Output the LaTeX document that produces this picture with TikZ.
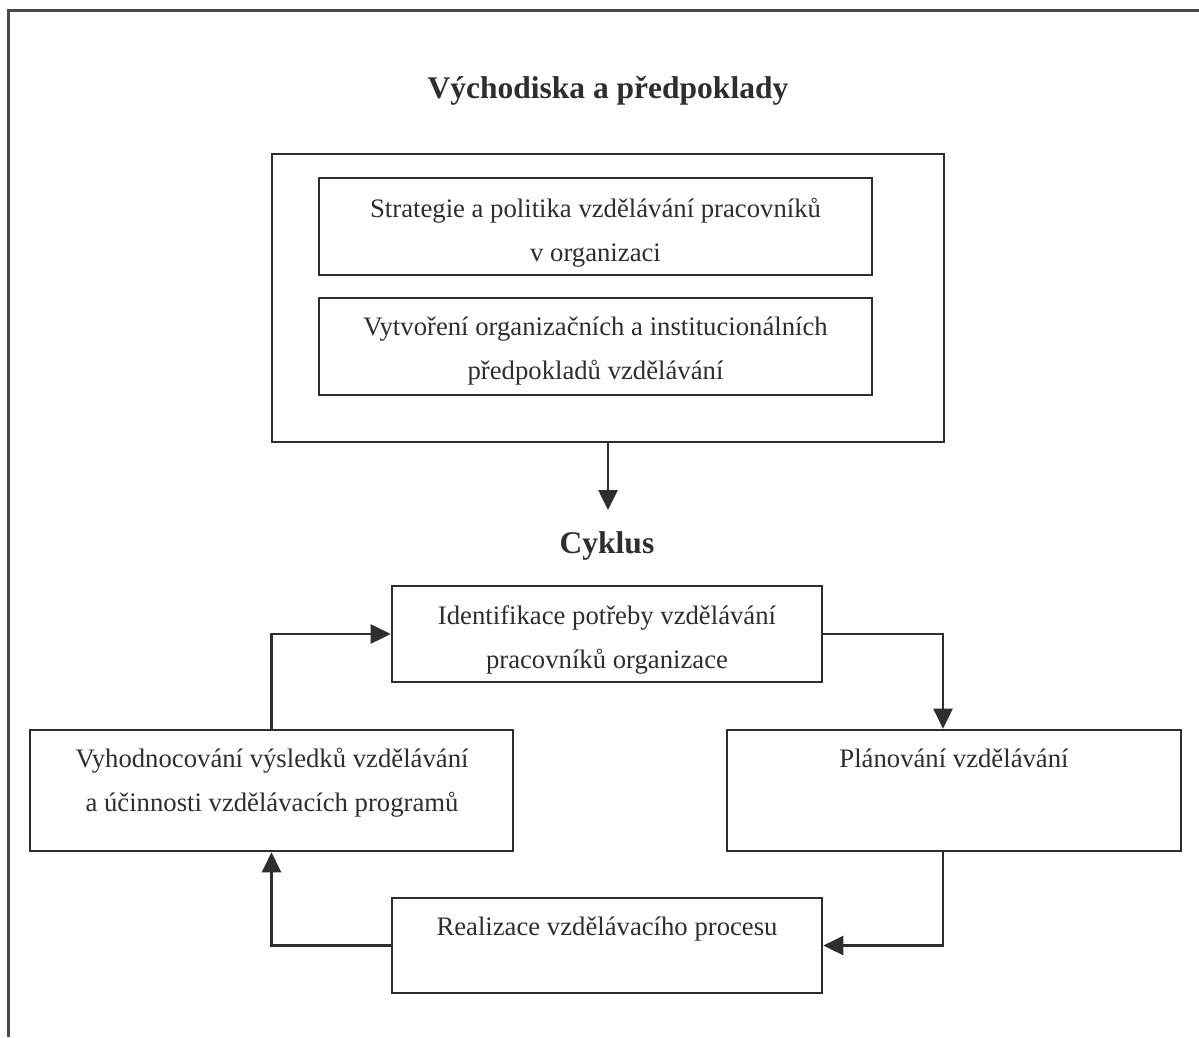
\documentclass[tikz,border=0pt]{standalone}
\usepackage{fontspec}
\setmainfont{Liberation Serif}
\usetikzlibrary{arrows.meta,calc}
\definecolor{ink}{HTML}{2E2E30}
\definecolor{frame}{HTML}{4A4A4C}
\tikzset{
  box/.style={draw=ink, line width=2.6pt, rectangle, inner sep=0pt},
  txt/.style={text=ink, anchor=base, inner sep=0pt, font=\fontsize{26.7}{31}\selectfont},
  head/.style={text=ink, anchor=base, inner sep=0pt, font=\fontsize{31.5}{36}\selectfont\bfseries},
  arr/.style={draw=ink, line width=2.6pt, -{Triangle[length=20pt,width=19pt]}},
}
\begin{document}
\begin{tikzpicture}[x=1pt,y=-1pt]
\useasboundingbox (0,0) rectangle (1199,1037);
\fill[white] (0,0) rectangle (1199,1037);
% page frame (top and left edges)
\draw[frame, line width=3pt] (8,1037) -- (8,10) -- (1199,10);

% preconditions
\node[head] (t1) at (608,98) {Východiska a předpoklady};
\node[box, minimum width=672pt, minimum height=288pt] (big) at (608,298) {};
\node[box, minimum width=553pt, minimum height=97pt] (strat) at (595.5,226.5) {};
\node[txt] (strat1) at (595.5,217) {Strategie a politika vzdělávání pracovníků};
\node[txt] (strat2) at (595.5,261) {v organizaci};
\node[box, minimum width=553pt, minimum height=97pt] (inst) at (595.5,346.5) {};
\node[txt] (inst1) at (595.5,335) {Vytvoření organizačních a institucionálních};
\node[txt] (inst2) at (595.5,379) {předpokladů vzdělávání};

% cycle
\node[head] (t2) at (607,553) {Cyklus};
\coordinate (cycin) at (608,510);
\draw[arr] (big.south) -- (cycin);

\node[box, minimum width=430pt, minimum height=96pt] (ident) at (607,634) {};
\node[txt] (ident1) at (607,624) {Identifikace potřeby vzdělávání};
\node[txt] (ident2) at (607,668) {pracovníků organizace};

\node[box, minimum width=483pt, minimum height=121pt] (vyh) at (271.5,790.5) {};
\node[txt] (vyh1) at (272,767) {Vyhodnocování výsledků vzdělávání};
\node[txt] (vyh2) at (272,811) {a účinnosti vzdělávacích programů};

\node[box, minimum width=454pt, minimum height=121pt] (plan) at (954,790.5) {};
\node[txt] (plan1) at (954,767) {Plánování vzdělávání};

\node[box, minimum width=430pt, minimum height=95pt] (real) at (607,945.5) {};
\node[txt] (real1) at (607,935) {Realizace vzdělávacího procesu};

% cycle connectors
\draw[arr] (vyh.north) |- (ident.west);
\draw[arr] (ident.east) -| ($(plan.north)+(-11,0)$);
\draw[arr] ($(plan.south)+(-11,0)$) |- (real.east);
\draw[arr] (real.west) -| (vyh.south);
\end{tikzpicture}
\end{document}
